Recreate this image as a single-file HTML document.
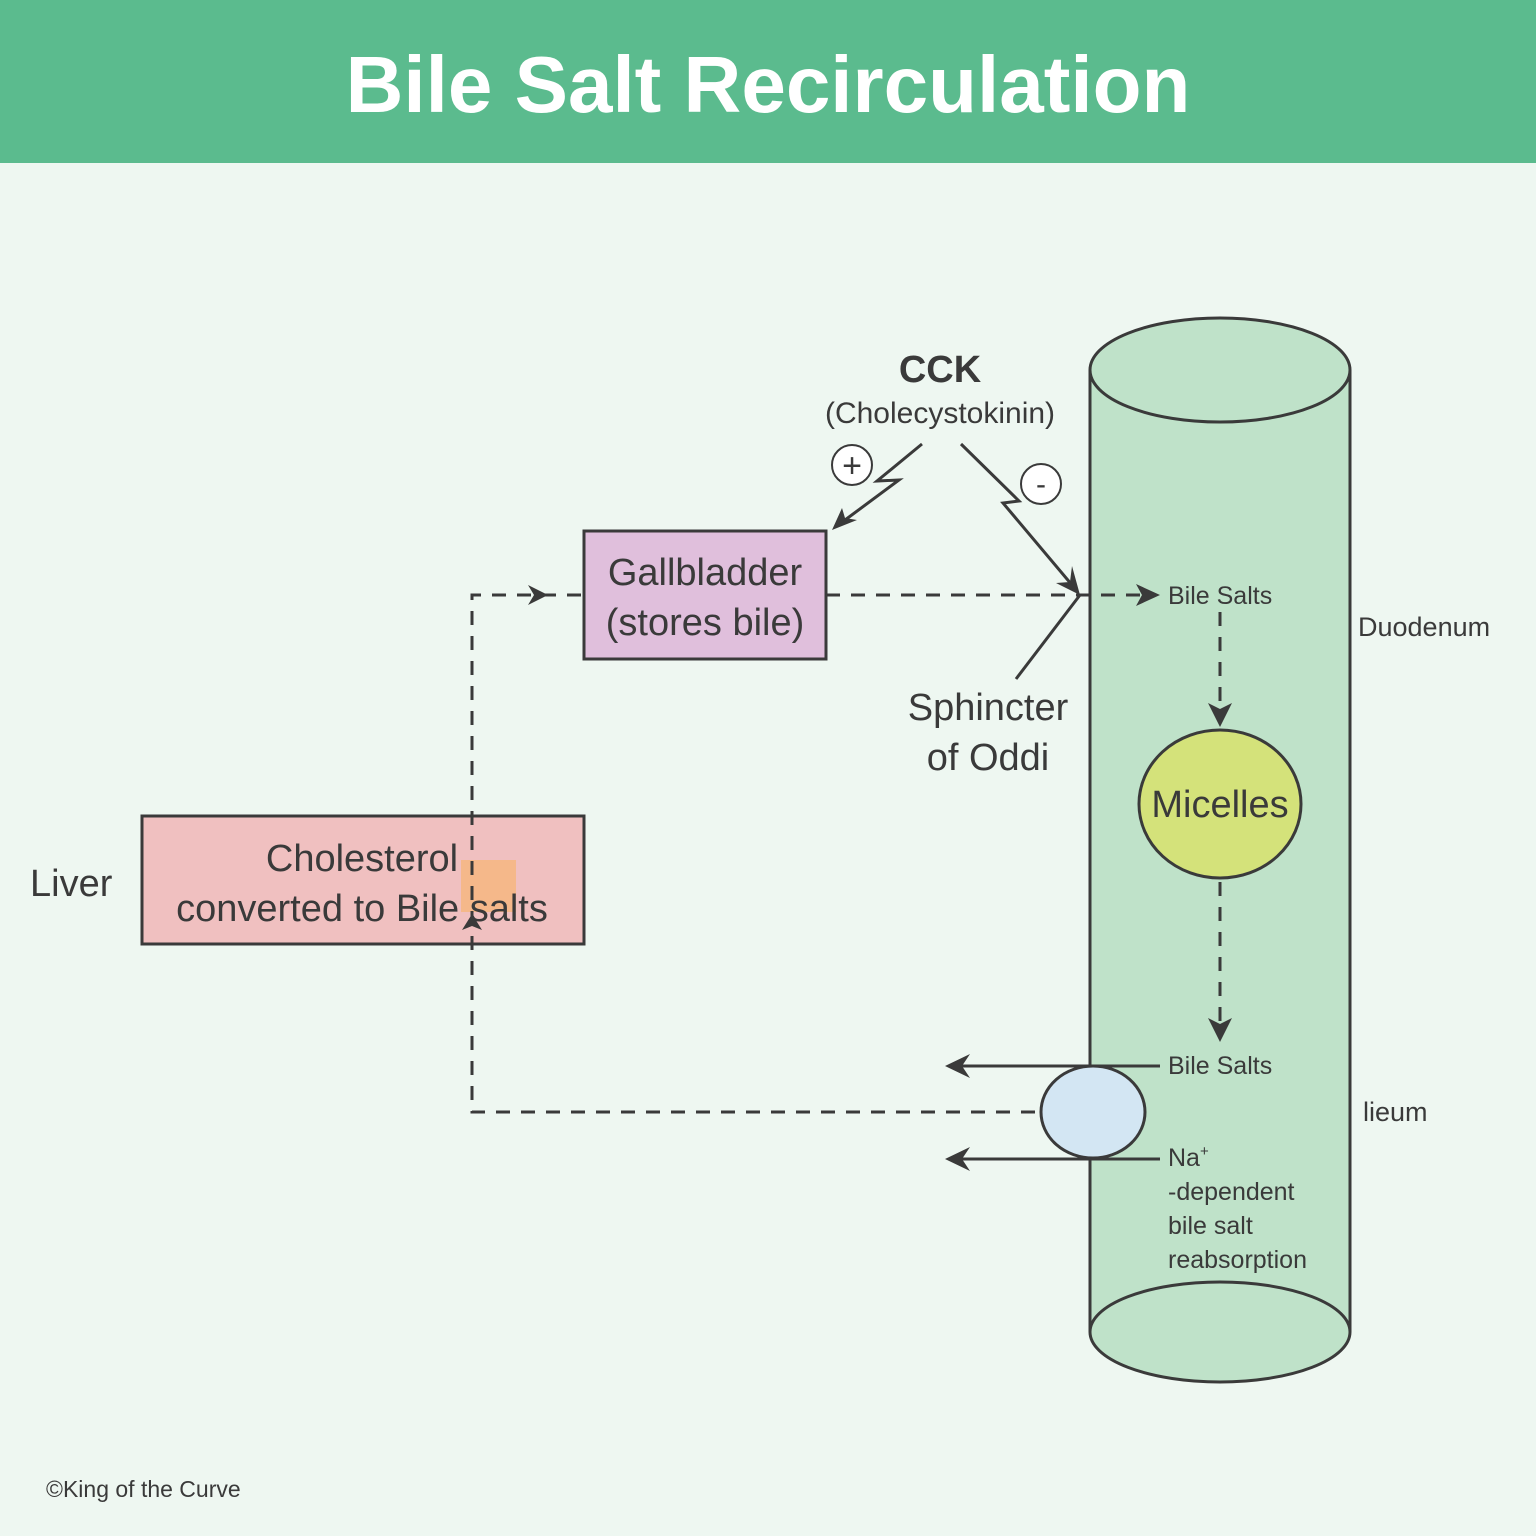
<!DOCTYPE html>
<html><head><meta charset="utf-8"><style>
html,body{margin:0;padding:0;width:1536px;height:1536px;overflow:hidden;background:#eef7f1}
svg{display:block}
text{font-family:"Liberation Sans",sans-serif;fill:#3a3a3a}
</style></head><body>
<svg width="1536" height="1536" viewBox="0 0 1536 1536" xmlns="http://www.w3.org/2000/svg">
<rect x="0" y="0" width="1536" height="1536" fill="#eef7f1"/>
<rect x="0" y="0" width="1536" height="163" fill="#5bbb8e"/>
<text x="768" y="112" text-anchor="middle" font-size="80" font-weight="bold" style="fill:#fff">Bile Salt Recirculation</text>

<!-- cylinder -->
<path d="M1090 370 L1090 1332 A130 50 0 0 0 1350 1332 L1350 370" fill="#bfe2c9" stroke="#3a3a3a" stroke-width="3"/>
<ellipse cx="1220" cy="370" rx="130" ry="52" fill="#bfe2c9" stroke="#3a3a3a" stroke-width="3"/>
<path d="M1090 1332 A130 50 0 0 1 1350 1332" fill="none" stroke="#3a3a3a" stroke-width="3"/>

<!-- boxes -->
<rect x="584" y="531" width="242" height="128" fill="#e0bfdc" stroke="#3a3a3a" stroke-width="3"/>
<text x="705" y="585" text-anchor="middle" font-size="38">Gallbladder</text>
<text x="705" y="635" text-anchor="middle" font-size="38">(stores bile)</text>
<rect x="142" y="816" width="442" height="128" fill="#f0c0c0" stroke="#3a3a3a" stroke-width="3"/>
<rect x="461" y="860" width="55" height="52" fill="#f5b88a"/>
<text x="362" y="871" text-anchor="middle" font-size="38">Cholesterol</text>
<text x="362" y="921" text-anchor="middle" font-size="38">converted to Bile salts</text>
<text x="30" y="896" font-size="38">Liver</text>

<!-- dashed lines -->
<g stroke="#3a3a3a" stroke-width="3" fill="none" stroke-dasharray="14 11">
<path d="M1035 1112 L472 1112 L472 595 L584 595"/>
<path d="M826 595 L1150 595"/>
<path d="M1220 612 L1220 715"/>
<path d="M1220 882 L1220 1030"/>
</g>
<g fill="#3a3a3a">
<path d="M548 595 L528 585 L534 595 L528 605 Z"/>
<path d="M1160 595 L1136 584 L1142 595 L1136 606 Z"/>
<path d="M1220 727 L1208 703 L1220 709 L1232 703 Z"/>
<path d="M1220 1042 L1208 1018 L1220 1024 L1232 1018 Z"/>
<path d="M472 914 L462 930 L472 926 L482 930 Z"/>
</g>

<!-- CCK -->
<text x="940" y="382" text-anchor="middle" font-size="38" font-weight="bold">CCK</text>
<text x="940" y="423" text-anchor="middle" font-size="30">(Cholecystokinin)</text>
<circle cx="852" cy="465" r="20" fill="#fff" stroke="#3a3a3a" stroke-width="2"/>
<text x="852" y="477" text-anchor="middle" font-size="34">+</text>
<circle cx="1041" cy="484" r="20" fill="#fff" stroke="#3a3a3a" stroke-width="2"/>
<text x="1041" y="494" text-anchor="middle" font-size="30">-</text>
<g stroke="#3a3a3a" stroke-width="3" fill="none">
<path d="M922 444 L877 481 L899 480 L845 520"/>
<path d="M961 444 L1019 501 L1003 503 L1072 585"/>
<path d="M1080 595 L1016 679"/>
</g>
<g fill="#3a3a3a">
<path d="M832 530 L842 508 L845 518 L857 520 Z"/>
<path d="M1080 595 L1056 583 L1070 582 L1072 566 Z"/>
</g>
<text x="988" y="720" text-anchor="middle" font-size="38">Sphincter</text>
<text x="988" y="770" text-anchor="middle" font-size="38">of Oddi</text>

<text x="1168" y="604" font-size="25">Bile Salts</text>
<text x="1358" y="636" font-size="27">Duodenum</text>
<ellipse cx="1220" cy="804" rx="81" ry="74" fill="#d4e27a" stroke="#3a3a3a" stroke-width="3"/>
<text x="1220" y="817" text-anchor="middle" font-size="38">Micelles</text>

<!-- ileum -->
<g stroke="#3a3a3a" stroke-width="3" fill="none">
<path d="M1160 1066 L960 1066"/>
<path d="M1160 1159 L960 1159"/>
</g>
<g fill="#3a3a3a">
<path d="M945 1066 L970 1054 L962 1066 L970 1078 Z"/>
<path d="M945 1159 L970 1147 L962 1159 L970 1171 Z"/>
</g>
<ellipse cx="1093" cy="1112" rx="52" ry="46" fill="#d3e6f3" stroke="#3a3a3a" stroke-width="3"/>
<text x="1168" y="1074" font-size="25">Bile Salts</text>
<text x="1363" y="1121" font-size="27">lieum</text>
<text x="1168" y="1166" font-size="25">Na<tspan font-size="15" dy="-10">+</tspan></text>
<text x="1168" y="1200" font-size="25">-dependent</text>
<text x="1168" y="1234" font-size="25">bile salt</text>
<text x="1168" y="1268" font-size="25">reabsorption</text>

<text x="46" y="1497" font-size="23">©King of the Curve</text>
</svg>
</body></html>
